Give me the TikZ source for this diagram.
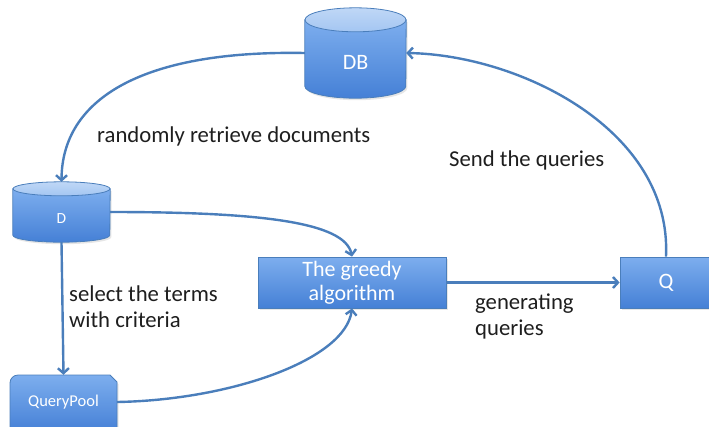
\documentclass[tikz,border=0pt]{standalone}
\usepackage{fontspec}
\setmainfont{Carlito}
\usetikzlibrary{arrows.meta,calc,shadows,backgrounds}
\definecolor{boxtop}{HTML}{7DAEEE}
\definecolor{boxbot}{HTML}{4580D6}
\definecolor{boxedge}{HTML}{4A7EBB}
\definecolor{capface}{HTML}{A4C6F2}
\definecolor{linkblue}{HTML}{4A7EBB}
\definecolor{labeltext}{HTML}{1E1E1E}
\tikzset{
  blk/.style={draw=boxedge, line width=0.8pt, top color=boxtop, bottom color=boxbot,
    text=white, drop shadow={opacity=.2, shadow xshift=1.5pt, shadow yshift=-2pt}},
  store/.style={text=white, inner sep=0pt, text depth=0pt},
  endcap/.style={draw=boxedge, line width=0.8pt, top color=capface!70!white, bottom color=capface},
  link/.style={linkblue, line width=2.4pt, -{Straight Barb[length=5pt,width=11pt]}},
  lbl/.style={text=labeltext, anchor=base west, inner sep=0pt, align=left,
    font=\fontsize{22.7}{26}\selectfont},
  big/.style={font=\fontsize{22}{24}\selectfont},
  small/.style={font=\fontsize{15.5}{18}\selectfont},
}
\begin{document}
\begin{tikzpicture}[x=1pt,y=-1pt]
\clip (0,0) rectangle (709,426);
% data stores (text nodes, drawn as cylinders behind)
\node[store, big, minimum width=101pt, minimum height=90pt, text height=32pt] (db) at (355.5,53) {DB};
\node[store, small, minimum width=97pt, minimum height=60pt, text height=22pt] (d) at (61.5,212) {D};
\begin{scope}[on background layer]
\path[blk] ($(db.north west)+(0,12)$) -- ($(db.south west)+(0,-12)$)
  arc[start angle=180, end angle=360, x radius=50.5pt, y radius=12pt] -- ($(db.north east)+(0,12)$) -- cycle;
\path[endcap] ($(db.north)+(0,12)$) ellipse [x radius=50.5pt, y radius=12pt];
\path[blk] ($(d.north west)+(0,7)$) -- ($(d.south west)+(0,-7)$)
  arc[start angle=180, end angle=360, x radius=48.5pt, y radius=7pt] -- ($(d.north east)+(0,7)$) -- cycle;
\path[endcap] ($(d.north)+(0,7)$) ellipse [x radius=48.5pt, y radius=7pt];
\end{scope}
% query pool
\path[blk] (10,432) -- (10,383) to[out=90,in=180] (18,375) -- (110,375) -- (117,382) -- (117,432) -- cycle;
\node[font=\fontsize{16.5}{18}\selectfont, text=white, minimum width=107pt, minimum height=54pt] (qpool) at (63.5,402) {QueryPool};
% boxes
\node[blk, big, align=center, minimum width=188pt, minimum height=51pt, inner sep=0pt] (greedy) at (352,282.5) {The greedy\\algorithm};
\node[blk, big, minimum width=92pt, minimum height=51pt] (q) at (666,282.5) {Q};
% connectors
\draw[link] (db.west) .. controls (140,50) and (62,100) .. (d.north);
\draw[link] (q.north) .. controls (672,130) and (520,55) .. (db.east);
\draw[link] (d.east) .. controls (260,212) and (345,222) .. (greedy.north);
\draw[link] (qpool.east) .. controls (230,400) and (345,360) .. (greedy.south);
\draw[link] (d.south) -- (qpool.north);
\draw[link] (greedy.east) -- (q.west);
% labels
\node[lbl] (retrieve) at (97,142) {randomly retrieve documents};
\node[lbl] (send) at (449,166) {Send the queries};
\node[lbl] (select) at (69,327) {select the terms\\with criteria};
\node[lbl] (generate) at (475,335) {generating\\queries};
\end{tikzpicture}
\end{document}
